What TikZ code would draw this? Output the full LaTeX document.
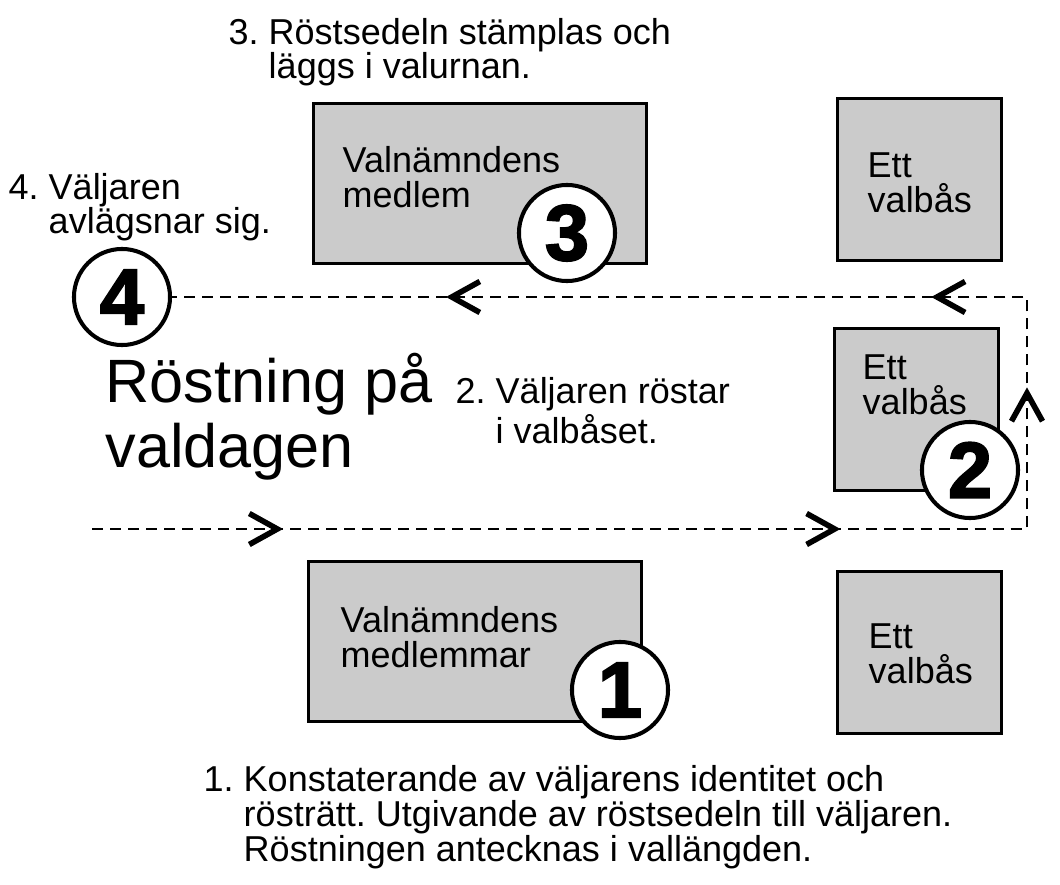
\documentclass[tikz,border=0pt]{standalone}
\usepackage{fontspec}
\setmainfont{Liberation Sans}
\newfontfamily\digitfont[FakeBold=2.5]{Liberation Sans Bold}
\usetikzlibrary{positioning,arrows.meta,decorations.markings}
\definecolor{boxgray}{HTML}{CBCBCB}
\frenchspacing

\begin{document}
\begin{tikzpicture}[
  x=0.01cm, y=-0.01cm,
  every node/.style={inner sep=0pt},
  >={Straight Barb[length=0.28cm, width=0.31cm, line width=1.6pt]},
  txt/.style={align=left, anchor=base west, font=\fontsize{10.24pt}{9.9pt}\selectfont},
  room/.style={draw, line width=0.85pt, fill=boxgray, anchor=north west},
  desk/.style={room, minimum width=3.33cm, minimum height=1.60cm},
  booth/.style={room, minimum width=1.64cm, minimum height=1.62cm},
  num/.style={draw, circle, line width=1.15pt, fill=white, minimum size=0.96cm,
    font=\digitfont\fontsize{22.5pt}{22.5pt}\selectfont},
  flow/.style={dash pattern=on 0.11cm off 0.07cm, line width=0.75pt,
    postaction={decorate}, decoration={markings,
      mark=at position 1.91cm with {\pgfsetdash{}{0pt}\arrow{>}},
      mark=at position 7.48cm with {\pgfsetdash{}{0pt}\arrow{>}},
      mark=at position 10.76cm with {\pgfsetdash{}{0pt}\arrow{>}},
      mark=at position 12.62cm with {\pgfsetdash{}{0pt}\arrow{>}},
      mark=at position 17.47cm with {\pgfsetdash{}{0pt}\arrow{>}}}},
]
\useasboundingbox (0,0) rectangle (1060,885);

% rooms
\node[desk] (desk3) at (312,102) {};
\node[booth] (booth3) at (836,97) {};
\node[booth] (booth2) at (833,327) {};
\node[desk] (desk1) at (307,560) {};
\node[booth] (booth1) at (836,570) {};

% (base = last line)
\node[txt, below right=1.05cm and 0.30cm of desk3.north west, anchor=base west] (desk3txt) {Valnämndens\\medlem};
\node[txt, below right=1.15cm and 0.31cm of booth3.north west, anchor=base west] (booth3txt) {Ett\\valbås};
\node[txt, below right=0.87cm and 0.29cm of booth2.north west, anchor=base west] (booth2txt) {Ett\\valbås};
\node[txt, below right=1.07cm and 0.33cm of desk1.north west, anchor=base west] (desk1txt) {Valnämndens\\medlemmar};
\node[txt, below right=1.13cm and 0.32cm of booth1.north west, anchor=base west] (booth1txt) {Ett\\valbås};

% steps
\node[num] (c3) at (567,233) {3};
\node[num] (c4) at (122,297) {4};
\node[num] (c2) at (970,470) {2};
\node[num] (c1) at (620,690) {1};

\node[txt] (step3) at (228,79) {3. Röstsedeln stämplas och\\\hphantom{3.\ }läggs i valurnan.};
\node[txt] (step4) at (8,234) {4. Väljaren\\\hphantom{4.\ }avlägsnar sig.};
\node[txt] (step2) at (455,444) {2. Väljaren röstar\\\hphantom{2.\ }i valbåset.};
\node[txt] (step1) at (203,861) {1. Konstaterande av väljarens identitet och\\\hphantom{1.\ }rösträtt. Utgivande av röstsedeln till väljaren.\\\hphantom{1.\ }Röstningen antecknas i vallängden.};
\node[txt, font=\fontsize{17.4pt}{18.5pt}\selectfont] (title) at (105,468) {Röstning på\\valdagen};

% path of the voter
\coordinate (entry) at (92,529);
\coordinate (turn1) at (1027,529);
\coordinate (turn2) at (1027,297);
\draw[flow] (entry) -- (turn1) -- (turn2) -- (c4);

\end{tikzpicture}
\end{document}
